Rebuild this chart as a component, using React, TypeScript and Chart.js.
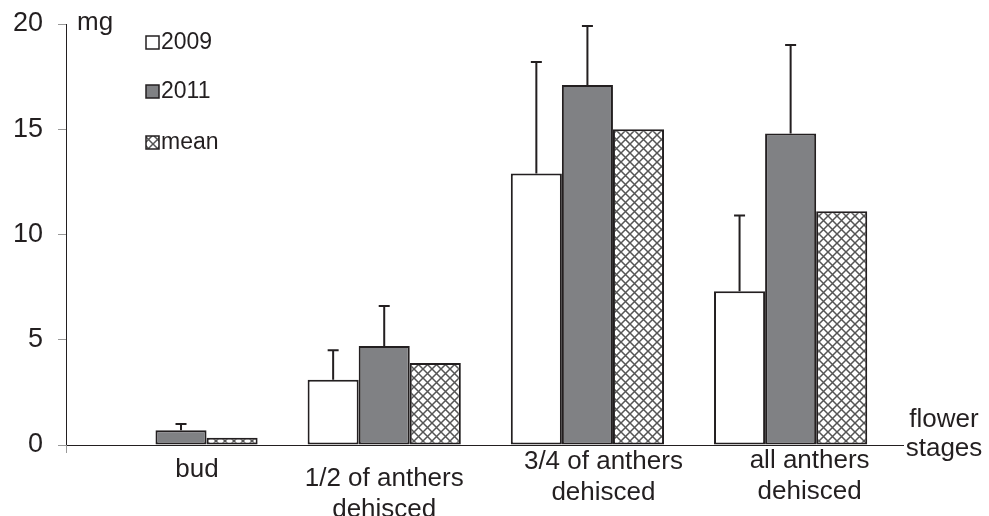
import React, { useEffect, useRef } from "react";
import { Chart, registerables } from "chart.js";

Chart.register(...registerables);

const categories: string[][] = [
  ["bud"],
  ["1/2 of anthers", "dehisced"],
  ["3/4 of anthers", "dehisced"],
  ["all anthers", "dehisced"],
];
const seriesNames = ["2009", "2011", "mean"];
const values2009 = [0, 3.1, 12.9, 7.3];
const sd2009 = [0, 1.4, 5.3, 3.6];
const values2011 = [0.7, 4.7, 17.1, 14.8];
const sd2011 = [0.3, 1.9, 2.8, 4.2];
const valuesMean = [0.35, 3.9, 15.0, 11.1];
const yTicks = [0, 5, 10, 15, 20];
const yUnit = "mg";
const xTitle = ["flower", "stages"];

const TEXT = "#231f20";
const FONT = '"Liberation Sans", Arial, sans-serif';
const GRAY = "#808184";

function makeHatch(size: number): CanvasPattern | string {
  const c = document.createElement("canvas");
  c.width = size;
  c.height = size;
  const g = c.getContext("2d");
  if (!g) return "#fff";
  g.fillStyle = "#ffffff";
  g.fillRect(0, 0, size, size);
  g.strokeStyle = "#555555";
  g.lineWidth = 1.5;
  g.beginPath();
  g.moveTo(0, 0);
  g.lineTo(size, size);
  g.moveTo(0, size);
  g.lineTo(size, 0);
  g.stroke();
  const p = g.createPattern(c, "repeat");
  return p || "#fff";
}

export default function App() {
  const ref = useRef<HTMLCanvasElement | null>(null);

  useEffect(() => {
    const canvas = ref.current;
    if (!canvas) return;
    const hatch = makeHatch(9);
    const fills: any[] = ["#ffffff", GRAY, hatch];
    const sds = [sd2009, sd2011, null];

    const labelDx = [16, 0, 16, 19];
    const labelDy = [32, 41, 24, 23];
    const lineH = 31;

    const overlay = {
      id: "overlay",
      afterDatasetsDraw(chart: any) {
        const ctx = chart.ctx as CanvasRenderingContext2D;
        const xs = chart.scales.x;
        const ys = chart.scales.y;
        const area = chart.chartArea;
        ctx.save();
        // error bars
        ctx.strokeStyle = TEXT;
        ctx.lineWidth = 2;
        sds.forEach((sd, di) => {
          if (!sd) return;
          const meta = chart.getDatasetMeta(di);
          const vals = di === 0 ? values2009 : values2011;
          meta.data.forEach((el: any, i: number) => {
            if (!sd[i]) return;
            const x = el.x;
            const yTop = ys.getPixelForValue(vals[i]);
            const yErr = ys.getPixelForValue(vals[i] + sd[i]);
            ctx.beginPath();
            ctx.moveTo(x, yTop);
            ctx.lineTo(x, yErr);
            ctx.moveTo(x - 5.5, yErr);
            ctx.lineTo(x + 5.5, yErr);
            ctx.stroke();
          });
        });
        // origin tick
        ctx.strokeStyle = "#999";
        ctx.lineWidth = 1;
        ctx.beginPath();
        ctx.moveTo(area.left + 0.5, area.bottom);
        ctx.lineTo(area.left + 0.5, area.bottom + 8);
        ctx.stroke();
        // category labels
        ctx.fillStyle = TEXT;
        ctx.font = `26px ${FONT}`;
        ctx.textAlign = "center";
        ctx.textBaseline = "alphabetic";
        categories.forEach((lines, i) => {
          const x = xs.getPixelForValue(i) + labelDx[i];
          lines.forEach((t, li) => {
            ctx.fillText(t, x, area.bottom + labelDy[i] + li * lineH);
          });
        });
        // x title
        ctx.fillText(xTitle[0], area.right + 41, area.bottom - 18);
        ctx.fillText(xTitle[1], area.right + 41, area.bottom + 11);
        // y unit
        ctx.textAlign = "left";
        ctx.fillText(yUnit, area.left + 11, area.top + 6);
        // legend
        ctx.font = `23px ${FONT}`;
        ctx.textBaseline = "middle";
        const ly = [42, 91, 142];
        seriesNames.forEach((name, i) => {
          ctx.fillStyle = fills[i];
          ctx.fillRect(146, ly[i] - 6, 13, 13);
          ctx.strokeStyle = TEXT;
          ctx.lineWidth = 1.5;
          ctx.strokeRect(146, ly[i] - 6, 13, 13);
          ctx.fillStyle = TEXT;
          ctx.fillText(name, 161, ly[i] + 1);
        });
        ctx.restore();
      },
    };

    const mk = (vals: number[]) => vals.map((v, i) => ({ x: i, y: v }));

    const chart = new Chart(canvas, {
      type: "bar",
      data: {
        datasets: [values2009, values2011, valuesMean].map((vals, i) => ({
          label: seriesNames[i],
          data: mk(vals) as any,
          backgroundColor: fills[i],
          borderColor: TEXT,
          borderWidth: 2,
          borderSkipped: false as any,
          categoryPercentage: 0.754,
          barPercentage: 1.0,
        })),
      },
      options: {
        responsive: false,
        animation: false,
        devicePixelRatio: 1,
        layout: { padding: { left: 0, top: 24, right: 86, bottom: 71 } },
        plugins: {
          legend: { display: false },
          tooltip: { enabled: false },
        },
        scales: {
          x: {
            type: "linear",
            min: -0.566,
            max: 3.553,
            offset: false,
            ticks: { display: false },
            afterBuildTicks: (s: any) => {
              s.ticks = categories.map((_, i) => ({ value: i }));
            },
            grid: { display: false },
            border: { display: true, color: TEXT, width: 1 },
            afterFit: (s: any) => {
              s.height = 0;
            },
          },
          y: {
            min: 0,
            max: 20,
            ticks: {
              stepSize: 5,
              color: TEXT,
              font: { size: 27, family: FONT },
              padding: 15,
            },
            afterBuildTicks: (s: any) => {
              s.ticks = yTicks.map((v) => ({ value: v }));
            },
            grid: {
              drawOnChartArea: false,
              drawTicks: true,
              tickLength: 8,
              color: "#999",
            },
            border: { display: true, color: TEXT, width: 1 },
            afterFit: (s: any) => {
              s.width = 66;
              s.paddingTop = 0;
              s.paddingBottom = 0;
            },
          },
        },
      },
      plugins: [overlay],
    });
    return () => chart.destroy();
  }, []);

  return (
    <div style={{ position: "fixed", left: 0, top: 0, width: 989, height: 516, background: "#fff" }}>
      <canvas ref={ref} width={989} height={516} style={{ width: 989, height: 516, display: "block" }} />
    </div>
  );
}
